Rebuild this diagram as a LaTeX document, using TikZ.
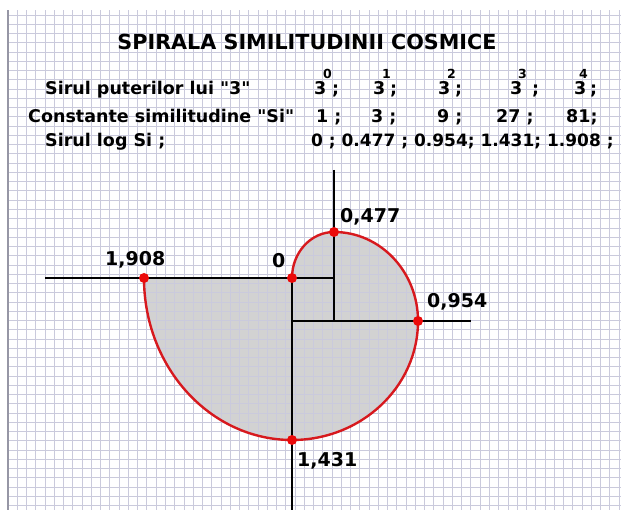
\documentclass[tikz,border=0pt]{standalone}
\usepackage{fontspec}
\setmainfont{DejaVu Sans}
\definecolor{gridc}{RGB}{202,202,220}
\definecolor{borderc}{RGB}{150,150,165}
\definecolor{spiralred}{RGB}{215,25,30}
\definecolor{dotred}{RGB}{235,10,10}
\definecolor{fillgray}{RGB}{210,210,210}
\begin{document}
\begin{tikzpicture}[x=1pt,y=1pt,
  gridline/.style={gridc, line width=0.8pt},
  border/.style={borderc, line width=1.8pt},
  axis/.style={black, line width=2.4pt},
  spiral/.style={spiralred, line width=2.4pt},
  dot/.style={circle, fill=dotred, inner sep=0pt, minimum size=10pt},
  txt/.style={anchor=base west, inner sep=0pt, font=\bfseries\fontsize{17.5}{20}\selectfont},
  valtxt/.style={anchor=base west, inner sep=0pt, font=\bfseries\fontsize{17}{20}\selectfont},
  suptxt/.style={anchor=base west, inner sep=0pt, font=\bfseries\fontsize{12.5}{14}\selectfont},
  titletxt/.style={anchor=base, inner sep=0pt, font=\bfseries\fontsize{20.7}{24}\selectfont},
  lbl/.style={anchor=base west, inner sep=0pt, font=\bfseries\fontsize{19}{22}\selectfont}
]
\useasboundingbox (0,0) rectangle (621,510);
\fill[white] (0,0) rectangle (621,510);
% points
\coordinate (p0) at (292,232);
\coordinate (p1) at (334,278);
\coordinate (p2) at (418,189);
\coordinate (p3) at (292,70);
\coordinate (p4) at (144,232);
% gray fill
\fill[fillgray] (p4) -- (p0)
  arc[start angle=180,end angle=90,x radius=42,y radius=46]
  arc[start angle=90,end angle=0,x radius=84,y radius=89]
  arc[start angle=0,end angle=-90,x radius=126,y radius=119]
  arc[start angle=-90,end angle=-180,x radius=148,y radius=162] -- cycle;
% grid
\foreach \i in {1,...,66} \draw[gridline] (8.04+\i*9.257,0) -- (8.04+\i*9.257,500);
\foreach \k in {0,...,53} \draw[gridline] (8,495-\k*9.257) -- (621,495-\k*9.257);
\draw[border] (8,0) -- (8,500);
% axes
\coordinate (tA) at (45,232);
\coordinate (tB) at (334,232);
\coordinate (vA) at (334,340);
\coordinate (vB) at (334,189);
\coordinate (hA) at (292,189);
\coordinate (hB) at (471,189);
\coordinate (dB) at (292,0);
\draw[axis] (tA) -- (tB);
\draw[axis] (vA) -- (vB);
\draw[axis] (hA) -- (hB);
\draw[axis] (p0) -- (dB);
% spiral
\draw[spiral] (p0)
  arc[start angle=180,end angle=90,x radius=42,y radius=46]
  arc[start angle=90,end angle=0,x radius=84,y radius=89]
  arc[start angle=0,end angle=-90,x radius=126,y radius=119]
  arc[start angle=-90,end angle=-180,x radius=148,y radius=162];
\node[dot] (d0) at (p0) {};
\node[dot] (d1) at (p1) {};
\node[dot] (d2) at (p2) {};
\node[dot] (d3) at (p3) {};
\node[dot] (d4) at (p4) {};
% labels
\node[lbl] (l4) at (105,244) {1,908};
\node[lbl] (l0) at (272,242) {0};
\node[lbl] (l1) at (340,287) {0,477};
\node[lbl] (l2) at (427,202) {0,954};
\node[lbl] (l3) at (297,43) {1,431};
% title
\node[titletxt] (title) at (307,460) {SPIRALA SIMILITUDINII COSMICE};
% row 1
\node[txt] (r1) at (45,415) {Sirul puterilor lui \textquotedbl 3\textquotedbl};
\node[txt] (a1) at (314,415) {3};
\node[suptxt] (s1) at (323,431) {0};
\node[txt] (c1) at (332,415) {;};
\node[txt] (a2) at (373,415) {3};
\node[suptxt] (s2) at (382,431) {1};
\node[txt] (c2) at (390,415) {;};
\node[txt] (a3) at (438,415) {3};
\node[suptxt] (s3) at (447,431) {2};
\node[txt] (c3) at (455,415) {;};
\node[txt] (a4) at (510,415) {3};
\node[suptxt] (s4) at (518,431) {3};
\node[txt] (c4) at (532,415) {;};
\node[txt] (a5) at (574,415) {3};
\node[suptxt] (s5) at (579,431) {4};
\node[txt] (c5) at (590,415) {;};
% row 2
\node[txt] (r2) at (28,387) {Constante similitudine \textquotedbl Si\textquotedbl};
\node[txt] (b1) at (316,387) {1 ;};
\node[txt] (b2) at (371,387) {3 ;};
\node[txt] (b3) at (437,387) {9 ;};
\node[txt] (b4) at (496,387) {27 ;};
\node[txt] (b5) at (566,387) {81;};
% row 3
\node[txt] (r3) at (45,363) {Sirul log Si ;};
\node[valtxt] (v3) at (311,363) {0 ; 0.477 ; 0.954; 1.431; 1.908 ;};
\end{tikzpicture}
\end{document}
